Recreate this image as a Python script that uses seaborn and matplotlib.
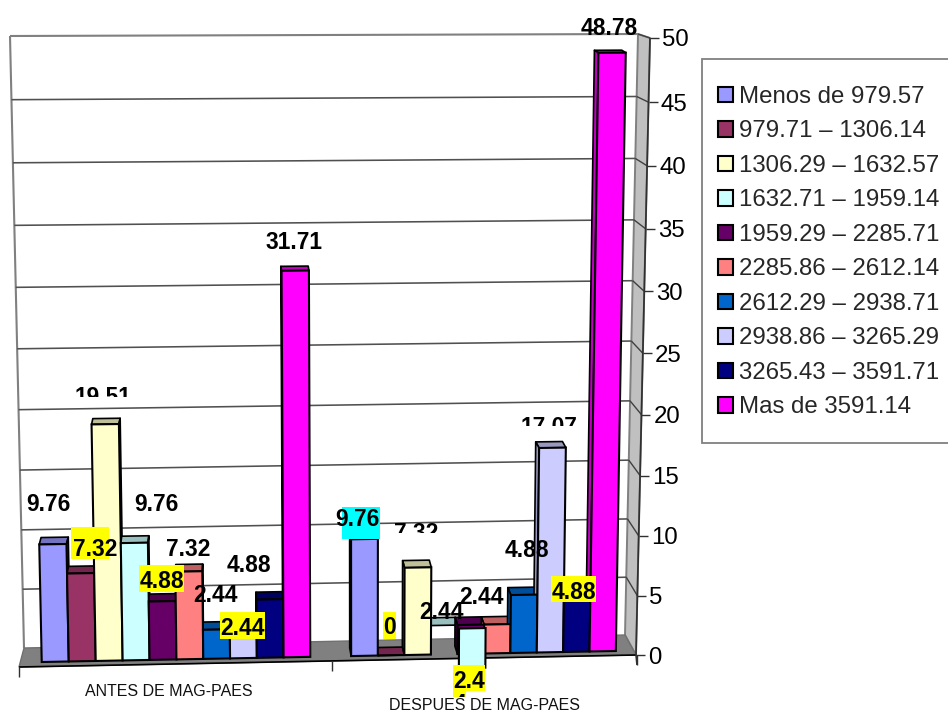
import numpy as np
import pandas as pd
import matplotlib
matplotlib.use("Agg")
import matplotlib.pyplot as plt
import matplotlib.transforms as mtransforms
from matplotlib.lines import Line2D
from matplotlib.patches import Polygon, Rectangle
import seaborn as sns

# Data
periods = ["ANTES DE MAG-PAES", "DESPUES DE MAG-PAES"]
ranges = [
    "Menos de 979.57", "979.71 – 1306.14", "1306.29 – 1632.57",
    "1632.71 – 1959.14", "1959.29 – 2285.71", "2285.86 – 2612.14",
    "2612.29 – 2938.71", "2938.86 – 3265.29", "3265.43 – 3591.71",
    "Mas de 3591.14",
]
before = [9.76, 7.32, 19.51, 9.76, 4.88, 7.32, 2.44, 2.44, 4.88, 31.71]
after = [9.76, 0, 7.32, 2.44, 2.44, 2.44, 4.88, 17.07, 4.88, 48.78]
value_ticks = [0, 5, 10, 15, 20, 25, 30, 35, 40, 45, 50]

colors = ["#9999FF", "#993366", "#FFFFCC", "#CCFFFF", "#660066",
          "#FF8080", "#0066CC", "#CCCCFF", "#000080", "#FF00FF"]

sns.set_style("white")
plt.rcParams["font.family"] = ["Liberation Sans", "DejaVu Sans"]

W, H = 948, 713
fig = plt.figure(figsize=(W / 100, H / 100), dpi=100, facecolor="white")
ax = fig.add_axes([0, 0, 1, 1])

# Canvas coordinates in pixels, origin at the upper left
pix = mtransforms.Affine2D().scale(1, -1).translate(0, H)


def homography(corners):
    """Plane projection taking (category x, value) to canvas pixels."""
    src = [(-0.5, 0), (1.5, 0), (1.5, 50), (-0.5, 50)]
    A, b = [], []
    for (u, v), (x, y) in zip(src, corners):
        A.append([u, v, 1, 0, 0, 0, -u * x, -v * x])
        A.append([0, 0, 0, u, v, 1, -u * y, -v * y])
        b += [x, y]
    return np.append(np.linalg.solve(np.array(A, float), np.array(b, float)), 1).reshape(3, 3)


def apply_h(M, pts):
    pts = np.atleast_2d(np.asarray(pts, float))
    q = np.c_[pts, np.ones(len(pts))] @ M.T
    return q[:, :2] / q[:, 2:]


class PlaneProjection(mtransforms.Transform):
    input_dims = output_dims = 2
    has_inverse = False
    is_separable = False

    def __init__(self, M):
        super().__init__()
        self.M = M

    def transform_non_affine(self, values):
        return apply_h(self.M, values)


# The bars stand on one plane, the gridlines on the back wall, the axis on the front edge
bar_plane = homography([(21, 662.4), (636, 650.6), (647, 37), (7, 40)])
back_wall = homography([(24, 648), (625, 635), (638, 34), (10, 36)])
front_edge = homography([(19, 667), (636, 655), (650, 38), (5, 40)])


def depth(x, v):
    """Offset from a bar's front face to its back face, narrowing with height."""
    return 2 + (x - 19) / 617 * -6.4, -(8 - 0.113 * v)


def shade(color, k):
    r, g, b = matplotlib.colors.to_rgb(color)
    return (r * k, g * k, b * k)


def line(pts, color="black", lw=1.2, z=2):
    pts = np.asarray(pts)
    ax.add_line(Line2D(pts[:, 0], pts[:, 1], color=color, lw=lw, zorder=z,
                       transform=pix, solid_capstyle="butt"))


def poly(pts, face, edge="black", lw=1.2, z=3):
    ax.add_patch(Polygon(pts, closed=True, facecolor=face, edgecolor=edge,
                         linewidth=lw, zorder=z, transform=pix, joinstyle="round"))


# Bars
df = pd.DataFrame({
    "periodo": np.repeat(periods, len(ranges)),
    "rango": ranges * 2,
    "porcentaje": before + after,
})
sns.barplot(
    data=df, x="periodo", y="porcentaje", hue="rango", order=periods,
    hue_order=ranges, palette=colors, saturation=1, width=0.867, gap=0,
    errorbar=None, edgecolor="black", linewidth=1.5, ax=ax, zorder=4,
)

# Walls and floor
poly([(625, 635), (638, 34), (650, 38), (636, 655)], "#C0C0C0", "#808080", 1.4, 1)
poly([(24, 648), (625, 635), (636, 655), (19, 667)], "#808080", "#707070", 1.0, 2)
line([(10, 36), (638, 34)], "#808080", 1.5, 1)
line([(10, 36), (24, 648)], "#808080", 1.5, 1)
line([(19, 667), (636, 655)], "black", 1.2, 2.5)
line([(650, 38), (636, 655), (637, 665)], "#303030", 1.2, 2.5)

for tick in value_ticks:
    back_l, back_r = apply_h(back_wall, [(-0.5, tick), (1.5, tick)])
    fx, fy = apply_h(front_edge, [(1.5, tick)])[0]
    if 0 < tick < 50:
        line([back_l, back_r], "#505050", 1.15, 1.5)
    if tick > 0:
        line([back_r, (fx, fy)], "#404040", 1.0, 1.5)
    line([(fx, fy), (fx + 9, fy)], "#303030", 1.0, 2.5)
    ax.text(fx + 12, fy + 2.5, str(tick), fontsize=17.3, va="center", ha="left",
            color="black", transform=pix, zorder=6)

for tick_x, top in [(19, 667), (332, 660.5), (637, 655)]:
    line([(tick_x, top), (tick_x, top + 10)], "#303030", 1.0, 2.5)

# Front faces projected by the bar plane, with tops and sides built from their corners
projection = PlaneProjection(bar_plane) + pix
shift_bar = None
for hue_idx, container in enumerate(ax.containers):
    face = colors[hue_idx]
    for bar in container:
        x0, x1 = bar.get_x(), bar.get_x() + bar.get_width()
        v = bar.get_height()
        (lx0, ly0), (lx1, ly1), (tx1, ty1), (tx0, ty0) = apply_h(
            bar_plane, [(x0, 0), (x1, 0), (x1, v), (x0, v)])
        dtx, dty = depth(tx0, v)
        dbx, dby = depth(lx0, 0)
        poly([(tx0, ty0), (tx1, ty1), (tx1 + dtx, ty1 + dty), (tx0 + dtx, ty0 + dty)],
             shade(face, 0.75))
        if dtx < 0:
            poly([(lx0, ly0), (tx0, ty0), (tx0 + dtx, ty0 + dty), (lx0 + dbx, ly0 + dby)],
                 shade(face, 0.75))
        else:
            poly([(lx1, ly1), (tx1, ty1), (tx1 + dtx, ty1 + dty), (lx1 + dbx, ly1 + dby)],
                 shade(face, 0.75))
        bar.set_transform(projection)
        bar.set_zorder(4)
    if hue_idx == 3:
        shift_bar = container[1]

# The 1632.71 – 1959.14 face of the second group sits one slot to the right, over its neighbour
shift_bar.set_y(-0.9)
shift_bar.set_height(shift_bar.get_height() + 0.9)
shift_bar.set_transform(PlaneProjection(bar_plane) + pix
                        + mtransforms.Affine2D().translate(28, -3))
shift_bar.set_zorder(4.5)

# Category labels
ax.text(168.5, 692, periods[0], fontsize=11.5, ha="center", va="center",
        color="#111111", transform=pix, zorder=6)
ax.text(484.5, 706, periods[1], fontsize=11.5, ha="center", va="center",
        color="#111111", transform=pix, zorder=6)

# Value labels: (value, centre x, centre y, highlight box, clip line)
YEL, CYA = "#FFFF00", "#00FFFF"
labels = [
    (before[0], 48, 502, None, None),
    (before[1], 95, 547, (71, 527, 109, 559, YEL), None),
    (before[2], 103, 394.5, None, 397),
    (before[3], 156, 502, None, None),
    (before[4], 161.5, 579, (139, 565, 184, 592, YEL), None),
    (before[5], 188, 547, None, None),
    (before[6], 215, 593, None, None),
    (before[7], 242.5, 626, (220, 612, 265, 639, YEL), None),
    (before[8], 249, 563, None, None),
    (before[9], 294, 240, None, None),
    (after[0], 357.5, 517, (342, 507, 380, 539, CYA), None),
    (after[1], 389.5, 625, (383, 612, 396, 639, YEL), None),
    (after[2], 416, 531, None, 533),
    (after[3], 442, 610, None, None),
    (after[5], 482, 595, None, None),
    (after[6], 527, 548, None, None),
    (after[7], 549, 425, None, 426),
    (after[8], 574, 590, (551, 576, 596, 602, YEL), None),
    (after[9], 609, 26, None, None),
]


def value_text(txt, cx, cy, clip=None):
    t = ax.text(cx, cy, txt, fontsize=16.4, fontweight="bold", ha="center",
                va="center_baseline", color="black", transform=pix, zorder=7)
    if clip is not None:
        # Only the part above the clip line stays visible
        box = mtransforms.Bbox.from_extents(cx - 60, H - clip, cx + 60, H - clip + 40)
        t.set_clip_box(mtransforms.TransformedBbox(box, mtransforms.IdentityTransform()))
        t.set_clip_on(True)


for val, cx, cy, box, clip in labels:
    if box is not None:
        x0, y0, x1, y1, col = box
        ax.add_patch(Rectangle((x0, y0), x1 - x0, y1 - y0, facecolor=col, edgecolor="none",
                               transform=pix, zorder=6))
    value_text(f"{val:g}", cx, cy, clip)

# The narrow label of the second group wraps onto a second, cut-off line
ax.add_patch(Rectangle((453, 665), 32, 26, facecolor=YEL, edgecolor="none", transform=pix, zorder=6))
ax.add_patch(Rectangle((453, 691), 13, 6, facecolor=YEL, edgecolor="none", transform=pix, zorder=6))
value_text("2.4", 469, 679)
value_text("4", 460, 702, 697)

# Legend
ax.add_patch(Rectangle((702, 59), 270, 384, facecolor="white", edgecolor="#808080",
                       linewidth=1.3, transform=pix, zorder=5))
sns.move_legend(
    ax, loc="upper left", bbox_to_anchor=(718, 86), bbox_transform=pix,
    frameon=False, title=None, fontsize=17.3, borderpad=0, borderaxespad=0,
    handlelength=0.62, handleheight=0.62, handletextpad=0.27, labelspacing=0.52,
)
ax.get_legend().set_zorder(6)

ax.set_xlim(-0.5, 1.5)
ax.set_ylim(0, 50)
ax.set_axis_off()
fig.savefig("out.png", dpi=100, facecolor="white")
